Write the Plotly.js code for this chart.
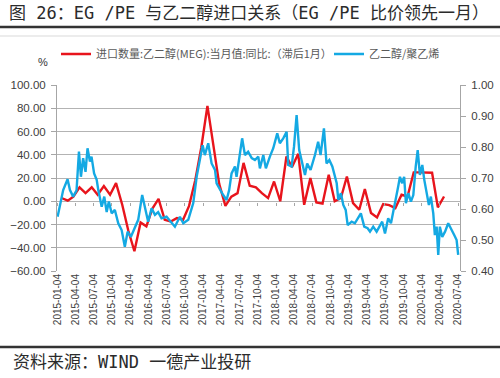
<!DOCTYPE html>
<html><head><meta charset="utf-8">
<script src="https://cdn.plot.ly/plotly-3.0.1.min.js"></script>
<style>html,body{margin:0;padding:0;background:#fff}#chart{width:500px;height:378px}</style>
</head><body><div id="chart"></div>
<script>
// 进口数量:乙二醇(MEG):当月值:同比（滞后1月）, %
const redDates = [
'2015-01-25','2015-02-25','2015-03-25','2015-04-25','2015-05-25','2015-06-25','2015-07-25','2015-08-25','2015-09-25','2015-10-25','2015-11-25','2015-12-25',
'2016-01-25','2016-02-25','2016-03-25','2016-04-25','2016-05-25','2016-06-25','2016-07-25','2016-08-25','2016-09-25','2016-10-25','2016-11-25','2016-12-25',
'2017-01-25','2017-02-25','2017-03-25','2017-04-25','2017-05-25','2017-06-25','2017-07-25','2017-08-25','2017-09-25','2017-10-25','2017-11-25','2017-12-25',
'2018-01-25','2018-02-25','2018-03-25','2018-04-25','2018-05-25','2018-06-25','2018-07-25','2018-08-25','2018-09-25','2018-10-25','2018-11-25','2018-12-25',
'2019-01-25','2019-02-25','2019-03-25','2019-04-25','2019-05-25','2019-06-25','2019-07-25','2019-08-25','2019-09-25','2019-10-25','2019-11-25','2019-12-25',
'2020-01-25','2020-02-25','2020-03-25','2020-04-25'];
const redValues = [
2.8,0.5,4,12,7,12,5.6,13,5.6,15.6,-3,-25,
-43,-18.2,-21.6,-6,2,-16,-17.4,-14.5,-15.9,-4,18,46,
82,45,15,-4,4,7,33,13.3,12,7,2.7,17,
0,38.5,29.4,40.8,-3,19.9,-1,-2.1,22.8,0,2.8,21.3,
-1.6,-7.3,10.5,-10.1,-13.9,-2.4,-3.3,-5.9,5.6,4.1,24.8,24.8,
24.8,24.5,-5.3,4.1];

// 乙二醇/聚乙烯 比价
const blueDates = [
'2015-01-05','2015-02-02','2015-02-24','2015-03-08','2015-03-24','2015-04-10','2015-04-22','2015-05-02','2015-05-13','2015-05-25',
'2015-06-04','2015-06-16','2015-06-24','2015-07-07','2015-07-20','2015-07-28','2015-08-14','2015-08-27','2015-09-08','2015-09-19',
'2015-10-03','2015-10-19','2015-11-05','2015-11-22','2015-12-08','2015-12-22','2016-01-07','2016-01-28','2016-02-13','2016-03-04',
'2016-03-18','2016-04-03','2016-04-20','2016-05-07','2016-05-23','2016-06-09','2016-07-04','2016-07-29','2016-08-15','2016-09-09',
'2016-09-26','2016-10-21','2016-10-29','2016-11-15','2016-12-02','2016-12-18','2017-01-01','2017-01-12','2017-01-29','2017-02-15',
'2017-03-04','2017-03-12','2017-03-29','2017-04-14','2017-05-01','2017-05-14','2017-05-26','2017-06-12','2017-06-20','2017-07-07',
'2017-07-18','2017-08-01','2017-08-17','2017-09-04','2017-09-20','2017-10-07','2017-10-15','2017-11-01','2017-11-14','2017-12-04',
'2017-12-21','2018-01-10','2018-01-23','2018-02-09','2018-02-26','2018-03-06','2018-03-23','2018-04-04','2018-04-17','2018-04-30',
'2018-05-12','2018-05-29','2018-06-09','2018-06-26','2018-07-18','2018-08-03','2018-08-15','2018-09-01','2018-09-14','2018-09-28',
'2018-10-13','2018-10-23','2018-11-04','2018-11-12','2018-11-25','2018-12-07','2018-12-19','2018-12-29','2019-01-18','2019-02-03',
'2019-02-20','2019-03-05','2019-03-22','2019-04-08','2019-04-20','2019-05-06','2019-05-23','2019-06-09','2019-06-20','2019-07-04',
'2019-07-20','2019-08-03','2019-08-14','2019-08-26','2019-09-08','2019-09-17','2019-09-28','2019-10-08','2019-10-17','2019-10-29',
'2019-11-11','2019-11-23','2019-12-05','2019-12-15','2019-12-26','2020-01-07','2020-01-17','2020-01-29','2020-02-09','2020-02-19',
'2020-03-02','2020-03-10','2020-03-19','2020-03-27','2020-04-04','2020-04-16','2020-04-30','2020-05-16','2020-05-30','2020-06-15',
'2020-06-27','2020-07-05'];
const blueValues = [
0.575,0.661,0.696,0.661,0.640,0.660,0.785,0.704,0.764,0.720,
0.796,0.753,0.769,0.715,0.694,0.661,0.607,0.640,0.590,0.624,
0.586,0.597,0.554,0.532,0.478,0.527,0.510,0.543,0.565,0.645,
0.607,0.559,0.602,0.581,0.590,0.570,0.575,0.554,0.543,0.575,
0.554,0.565,0.581,0.619,0.704,0.758,0.806,0.774,0.812,0.747,
0.726,0.683,0.661,0.645,0.629,0.661,0.715,0.737,0.704,0.785,
0.828,0.774,0.785,0.764,0.758,0.769,0.731,0.774,0.731,0.769,
0.796,0.844,0.812,0.828,0.849,0.742,0.737,0.801,0.903,0.790,
0.753,0.710,0.747,0.726,0.774,0.817,0.774,0.860,0.747,0.758,
0.737,0.710,0.683,0.629,0.651,0.613,0.597,0.548,0.559,0.554,
0.570,0.586,0.543,0.538,0.527,0.543,0.527,0.548,0.559,0.521,
0.570,0.554,0.586,0.629,0.672,0.704,0.683,0.704,0.619,0.651,
0.624,0.645,0.737,0.790,0.710,0.742,0.694,0.645,0.613,0.640,
0.586,0.516,0.543,0.452,0.543,0.510,0.527,0.554,0.538,0.516,
0.500,0.452];

const tickDates = ['2015-01-04','2015-04-04','2015-07-04','2015-10-04','2016-01-04','2016-04-04','2016-07-04','2016-10-04',
'2017-01-04','2017-04-04','2017-07-04','2017-10-04','2018-01-04','2018-04-04','2018-07-04','2018-10-04',
'2019-01-04','2019-04-04','2019-07-04','2019-10-04','2020-01-04','2020-04-04','2020-07-04'];

const leftTicks = [-60,-40,-20,0,20,40,60,80,100];
const rightTicks = [0.4,0.5,0.6,0.7,0.8,0.9,1.0];

const titleText = '图 26：EG /PE 与乙二醇进口关系（EG /PE 比价领先一月）';
const sourceText = '资料来源：WIND 一德产业投研';
const redName = '进口数量:乙二醇(MEG):当月值:同比:（滞后1月）';
const blueName = '乙二醇/聚乙烯';

const W = 500, H = 378, L = 57, R = 40, T = 85, B = 107;
const plotW = W - L - R, plotH = H - T - B;
const px2paperX = p => (p - L) / plotW;
const py2paperY = p => (H - B - p) / plotH;

const CJK = '"Noto Sans CJK SC", "Noto Sans", sans-serif';
const HEI = '"DejaVu Sans Mono", "Noto Sans CJK SC", monospace';
const LAT = '"Liberation Sans", Arial, sans-serif';

const legendCommon = {orientation: 'h', xref: 'container', yref: 'container',
  xanchor: 'left', y: 1 - 54 / H, yanchor: 'middle',
  font: {family: CJK, size: 11, color: '#595959'},
  bgcolor: 'rgba(0,0,0,0)', itemwidth: 30};

const traces = [
  {x: redDates, y: redValues, name: redName, type: 'scatter', mode: 'lines',
   line: {color: '#e8141c', width: 2.4}, yaxis: 'y', legend: 'legend'},
  {x: blueDates, y: blueValues, name: blueName, type: 'scatter', mode: 'lines',
   line: {color: '#14a9e3', width: 2.4}, yaxis: 'y2', legend: 'legend2'},
  {x: [tickDates[0]], y: [null], showlegend: false, hoverinfo: 'skip', xaxis: 'x2', yaxis: 'y', type: 'scatter', mode: 'lines'}
];

const layout = {
  width: W, height: H,
  margin: {l: L, r: R, t: T, b: B, pad: 0},
  paper_bgcolor: '#fff', plot_bgcolor: '#fff',
  showlegend: true,
  title: {text: titleText, x: 9 / W, xanchor: 'left', xref: 'container',
          y: 1 - 13 / H, yanchor: 'middle', yref: 'container',
          font: {family: HEI, size: 17, color: '#2b2b2b'}},
  legend: Object.assign({}, legendCommon, {x: 56 / W}),
  legend2: Object.assign({}, legendCommon, {x: 329 / W}),
  xaxis: {type: 'date', range: ['2015-01-02', '2020-07-14'],
          tickvals: tickDates, ticktext: tickDates, tickangle: -90,
          tickfont: {family: LAT, size: 10, color: '#404040'},
          showgrid: false, showline: false, zeroline: false, ticks: '',
          anchor: 'y', side: 'bottom'},
  xaxis2: {type: 'date', overlaying: 'x', matches: 'x', anchor: 'free',
           position: py2paperY(201.5), tickvals: tickDates, showticklabels: false,
           ticks: 'outside', ticklen: 3, tickcolor: '#a6a6a6', showline: false,
           showgrid: false, zeroline: false},
  yaxis: {range: [-60, 100], tickvals: leftTicks, tickformat: '.2f',
          tickfont: {family: LAT, size: 11.5, color: '#404040'},
          showgrid: true, gridcolor: '#b3b3b3', gridwidth: 1,
          zeroline: false, showline: true, linecolor: '#a6a6a6', linewidth: 1,
          ticks: 'outside', ticklen: 5, tickcolor: '#a6a6a6', ticklabelstandoff: 3},
  yaxis2: {range: [0.4, 1.0], tickvals: rightTicks, tickformat: '.2f',
           overlaying: 'y', side: 'right', anchor: 'x',
           tickfont: {family: LAT, size: 11.5, color: '#404040'},
           showgrid: false, zeroline: false, showline: true, linecolor: '#a6a6a6', linewidth: 1,
           ticks: 'outside', ticklen: 5, tickcolor: '#a6a6a6', ticklabelstandoff: 3},
  annotations: [
    {text: '%', xref: 'paper', yref: 'paper', x: px2paperX(43), y: py2paperY(62),
     xanchor: 'center', yanchor: 'middle', showarrow: false,
     font: {family: LAT, size: 11, color: '#333'}},
    {text: sourceText, xref: 'paper', yref: 'paper', x: px2paperX(11), y: py2paperY(361.5),
     xanchor: 'left', yanchor: 'middle', showarrow: false,
     font: {family: HEI, size: 17, color: '#2b2b2b'}}
  ],
  shapes: [
    {type: 'line', xref: 'paper', yref: 'paper', x0: px2paperX(0), x1: px2paperX(W),
     y0: py2paperY(27), y1: py2paperY(27), line: {color: '#333', width: 2.3}},
    {type: 'line', xref: 'paper', yref: 'paper', x0: px2paperX(0), x1: px2paperX(W),
     y0: py2paperY(36), y1: py2paperY(36), line: {color: '#d9d9d9', width: 1}},
    {type: 'line', xref: 'paper', yref: 'paper', x0: px2paperX(0), x1: px2paperX(W),
     y0: py2paperY(347), y1: py2paperY(347), line: {color: '#333', width: 2.6}}
  ]
};

Plotly.newPlot('chart', traces, layout, {displayModeBar: false, staticPlot: true});
</script>
</body></html>
